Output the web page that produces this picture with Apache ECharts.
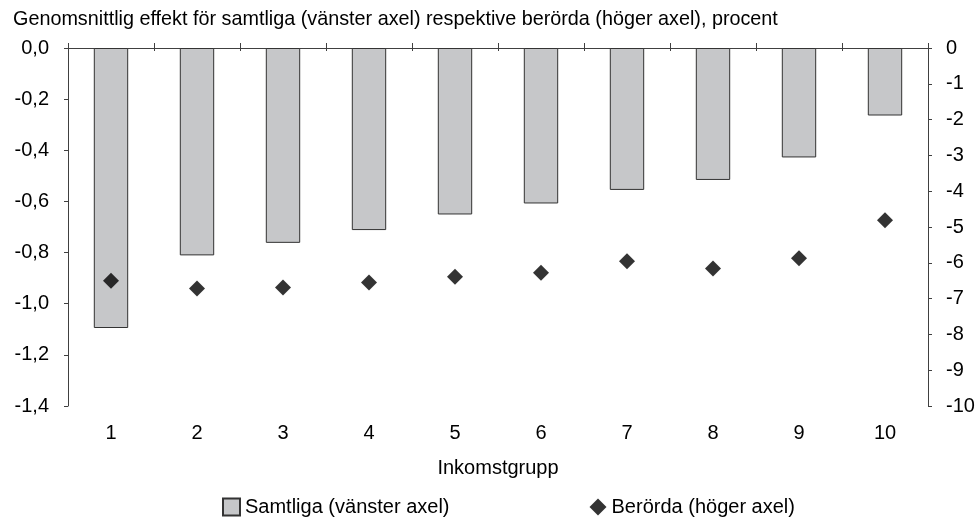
<!DOCTYPE html>
<html>
<head>
<meta charset="utf-8">
<script src="https://cdn.jsdelivr.net/npm/echarts@6/dist/echarts.min.js"></script>
<style>
  html, body { margin: 0; padding: 0; background: #fff; }
  #main { width: 979px; height: 518px; }
</style>
</head>
<body>
<div id="main"></div>
<script>
// Inkomstgrupper 1-10
const groups = ["1", "2", "3", "4", "5", "6", "7", "8", "9", "10"];
// Samtliga, vänster axel (procent)
const samtliga = [-1.095, -0.811, -0.762, -0.712, -0.651, -0.608, -0.555, -0.516, -0.428, -0.264];
// Berörda, höger axel (procent)
const berorda = [-6.5, -6.72, -6.69, -6.55, -6.39, -6.28, -5.96, -6.16, -5.87, -4.81];

const font = "Liberation Sans, Arial, sans-serif";
const fs = 20;

var chart = echarts.init(document.getElementById("main"));
chart.setOption({
  animation: false,
  textStyle: { fontFamily: font },
  title: {
    text: "Genomsnittlig effekt för samtliga (vänster axel) respektive berörda (höger axel), procent",
    left: 8,
    top: 5,
    textStyle: { fontSize: 19.8, fontWeight: "normal", color: "#000", fontFamily: font },
  },
  legend: {
    left: 217,
    top: 492,
    itemGap: 140,
    itemWidth: 17,
    itemHeight: 17,
    textStyle: { fontSize: fs, color: "#000", fontFamily: font },
    data: [
      { name: "Samtliga (vänster axel)", icon: "rect" },
      { name: "Berörda (höger axel)", icon: "diamond" },
    ],
  },
  grid: { left: 68, right: 51, top: 48, bottom: 112 },
  xAxis: [
    {
      type: "category",
      data: groups,
      position: "bottom",
      axisLine: { show: true, lineStyle: { color: "#808080", width: 1 } },
      axisTick: { show: false },
      axisLabel: { fontSize: fs, color: "#000", margin: 17 },
      name: "Inkomstgrupp",
      nameLocation: "middle",
      nameGap: 52,
      nameTextStyle: { fontSize: fs, color: "#000" },
    },
    {
      type: "category",
      data: groups,
      position: "top",
      axisLine: { show: true, onZero: false, lineStyle: { color: "#404040", width: 1 } },
      axisTick: { show: true, length: 5, lineStyle: { color: "#404040" } },
      axisLabel: { show: false },
    },
    {
      type: "category",
      data: groups,
      position: "top",
      axisLine: { show: false, onZero: false },
      axisTick: { show: true, inside: true, length: 3, lineStyle: { color: "#404040" } },
      axisLabel: { show: false },
    },
  ],
  yAxis: [
    {
      type: "value",
      min: -1.4,
      max: 0,
      interval: 0.2,
      axisLine: { show: true, lineStyle: { color: "#404040" } },
      axisTick: { show: true, length: 4, lineStyle: { color: "#404040" } },
      splitLine: { show: false },
      axisLabel: {
        fontSize: fs,
        color: "#000",
        margin: 19,
        formatter: (v) => v.toFixed(1).replace(".", ","),
      },
    },
    {
      type: "value",
      min: -10,
      max: 0,
      interval: 1,
      position: "right",
      axisLine: { show: true, lineStyle: { color: "#404040" } },
      axisTick: { show: true, length: 4, lineStyle: { color: "#404040" } },
      splitLine: { show: false },
      axisLabel: { fontSize: fs, color: "#000", margin: 18 },
    },
  ],
  series: [
    {
      name: "Samtliga (vänster axel)",
      type: "bar",
      xAxisIndex: 0,
      yAxisIndex: 0,
      barWidth: "40%",
      data: samtliga,
      itemStyle: { color: "#c6c7c9", borderColor: "#333", borderWidth: 1 },
    },
    {
      name: "Berörda (höger axel)",
      type: "scatter",
      xAxisIndex: 0,
      yAxisIndex: 1,
      symbol: "diamond",
      symbolSize: 16,
      data: berorda,
      itemStyle: { color: "#000" },
    },
  ],
});
</script>
</body>
</html>
